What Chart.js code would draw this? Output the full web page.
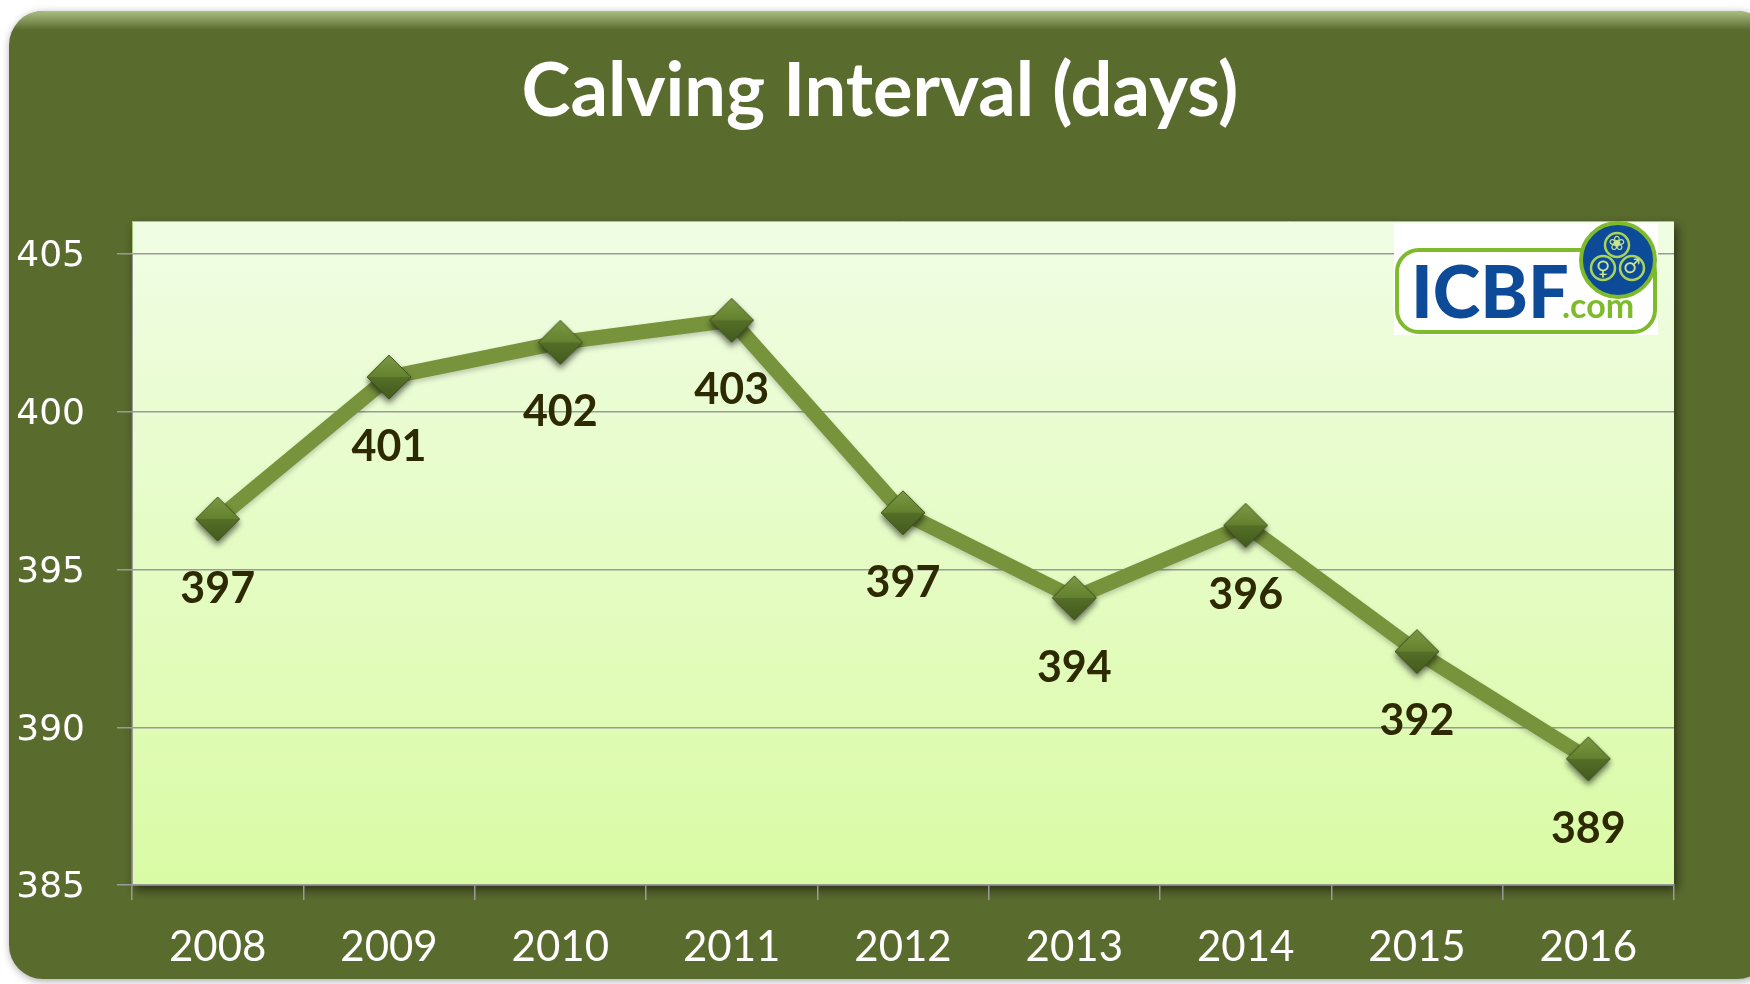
<!DOCTYPE html>
<html>
<head>
<meta charset="utf-8">
<title>Calving Interval (days)</title>
<script src="https://cdn.jsdelivr.net/npm/chart.js@4.4.1/dist/chart.umd.min.js"></script>
<style>
  html, body { margin: 0; padding: 0; background: #fff; }
  #chart { display: block; }
</style>
</head>
<body>
<canvas id="chart" width="1750" height="984"></canvas>
<script>
// ---- DATA ----
const years = ['2008', '2009', '2010', '2011', '2012', '2013', '2014', '2015', '2016'];
const calvingDays = [396.6, 401.1, 402.2, 402.9, 396.8, 394.1, 396.4, 392.4, 389.0];
const yTicks = [385, 390, 395, 400, 405];

// ---- COLOURS ----
const frameGreen = '#5a6b2e';
const lineGreen = '#77933c';
const gridGrey = '#9a9a9a';
const labelInk = '#2d2a02';
const icbfBlue = '#0d4a98';
const icbfGreen = '#7dbb2b';

function roundRect(ctx, x, y, w, h, r) {
  ctx.beginPath();
  ctx.moveTo(x + r, y);
  ctx.lineTo(x + w - r, y);
  ctx.arcTo(x + w, y, x + w, y + r, r);
  ctx.lineTo(x + w, y + h - r);
  ctx.arcTo(x + w, y + h, x + w - r, y + h, r);
  ctx.lineTo(x + r, y + h);
  ctx.arcTo(x, y + h, x, y + h - r, r);
  ctx.lineTo(x, y + r);
  ctx.arcTo(x, y, x + r, y, r);
  ctx.closePath();
}

// bevelled diamond marker, used as the point style
function makeDiamond(r) {
  const pad = 9;
  const size = 2 * (r + pad);
  const c = document.createElement('canvas');
  c.width = size; c.height = size;
  const g = c.getContext('2d');
  const cx = size / 2, cy = size / 2;
  const diamond = () => {
    g.beginPath();
    g.moveTo(cx - r, cy); g.lineTo(cx, cy - r); g.lineTo(cx + r, cy); g.lineTo(cx, cy + r);
    g.closePath();
  };
  g.save();
  g.shadowColor = 'rgba(0,0,0,0.45)';
  g.shadowBlur = 6;
  g.shadowOffsetY = 4;
  diamond();
  g.fillStyle = '#566f27';
  g.fill();
  g.restore();
  // upper facet
  let grad = g.createLinearGradient(0, cy - r, 0, cy);
  grad.addColorStop(0, '#7c9944');
  grad.addColorStop(1, '#64812f');
  g.beginPath(); g.moveTo(cx - r, cy); g.lineTo(cx, cy - r); g.lineTo(cx + r, cy); g.closePath();
  g.fillStyle = grad; g.fill();
  // lower facet
  grad = g.createLinearGradient(0, cy, 0, cy + r);
  grad.addColorStop(0, '#556f28');
  grad.addColorStop(1, '#435a1d');
  g.beginPath(); g.moveTo(cx - r, cy); g.lineTo(cx + r, cy); g.lineTo(cx, cy + r); g.closePath();
  g.fillStyle = grad; g.fill();
  diamond();
  g.lineWidth = 1;
  g.strokeStyle = 'rgba(55,75,20,0.8)';
  g.stroke();
  return c;
}

// ---- PLUGINS ----
const framePanel = {
  id: 'framePanel',
  beforeDraw(chart) {
    const ctx = chart.ctx;
    const a = chart.chartArea;
    ctx.save();
    ctx.shadowColor = 'rgba(0,0,0,0.35)';
    ctx.shadowBlur = 8;
    ctx.shadowOffsetX = 1;
    ctx.shadowOffsetY = 2;
    roundRect(ctx, 9, 11, 1762, 968, 34);
    ctx.fillStyle = frameGreen;
    ctx.fill();
    ctx.restore();

    // light bevel along the top edge
    ctx.save();
    roundRect(ctx, 9, 11, 1762, 968, 34);
    ctx.clip();
    const bevel = ctx.createLinearGradient(0, 11, 0, 30);
    bevel.addColorStop(0, 'rgba(180,200,140,0.9)');
    bevel.addColorStop(1, 'rgba(180,200,140,0)');
    ctx.fillStyle = bevel;
    ctx.fillRect(0, 11, 1750, 20);
    ctx.restore();

    // plot background (extends a little above the top tick)
    const top = a.top - 33;
    ctx.save();
    ctx.shadowColor = 'rgba(0,0,0,0.55)';
    ctx.shadowBlur = 10;
    ctx.shadowOffsetX = 3;
    ctx.shadowOffsetY = 5;
    const bg = ctx.createLinearGradient(0, top, 0, a.bottom);
    bg.addColorStop(0, '#f0fde4');
    bg.addColorStop(1, '#dafba5');
    ctx.fillStyle = bg;
    ctx.fillRect(a.left, top, a.right - a.left, a.bottom - top);
    ctx.restore();
    ctx.save();
    ctx.strokeStyle = '#a8c870';
    ctx.lineWidth = 1;
    ctx.beginPath();
    ctx.moveTo(a.left, a.bottom); ctx.lineTo(a.left + 0.5, top + 0.5); ctx.lineTo(a.right, top + 0.5);
    ctx.stroke();
    ctx.restore();
  }
};

const lineShadow = {
  id: 'lineShadow',
  beforeDatasetsDraw(chart) {
    const ctx = chart.ctx;
    ctx.save();
    ctx.shadowColor = 'rgba(0,0,0,0.2)';
    ctx.shadowBlur = 5;
    ctx.shadowOffsetY = 3;
  },
  afterDatasetsDraw(chart) {
    chart.ctx.restore();
  }
};

const valueLabels = {
  id: 'valueLabels',
  afterDatasetsDraw(chart) {
    const ctx = chart.ctx;
    const meta = chart.getDatasetMeta(0);
    ctx.save();
    ctx.font = 'bold 43px Lato';
    ctx.fillStyle = labelInk;
    ctx.textAlign = 'center';
    ctx.textBaseline = 'middle';
    meta.data.forEach((pt, i) => {
      ctx.fillText(String(Math.round(calvingDays[i])), pt.x, pt.y + 70);
    });
    ctx.restore();
  }
};

const icbfLogo = {
  id: 'icbfLogo',
  afterDraw(chart) {
    const ctx = chart.ctx;
    ctx.save();
    ctx.fillStyle = '#fff';
    ctx.fillRect(1394, 223, 264, 112);
    roundRect(ctx, 1397, 250, 258, 82, 22);
    ctx.lineWidth = 4;
    ctx.strokeStyle = icbfGreen;
    ctx.stroke();

    ctx.textBaseline = 'alphabetic';
    ctx.textAlign = 'left';
    ctx.fillStyle = icbfBlue;
    ctx.font = '900 72px Lato';
    ctx.fillText('ICBF', 1411, 318);
    ctx.fillStyle = icbfGreen;
    ctx.font = 'bold 34px Lato';
    ctx.fillText('.com', 1562, 318);

    // round badge
    ctx.beginPath();
    ctx.arc(1618, 260, 37, 0, Math.PI * 2);
    ctx.fillStyle = icbfBlue;
    ctx.fill();
    ctx.lineWidth = 4;
    ctx.strokeStyle = icbfGreen;
    ctx.stroke();
    ctx.lineWidth = 2.5;
    ctx.strokeStyle = '#a9d45a';
    [[1617, 245, 12], [1603, 268, 12], [1632, 268, 12]].forEach(([x, y, r]) => {
      ctx.beginPath();
      ctx.arc(x, y, r, 0, Math.PI * 2);
      ctx.stroke();
    });
    ctx.fillStyle = '#c7e68f';
    ctx.font = 'bold 20px "DejaVu Sans"';
    ctx.textAlign = 'center';
    ctx.textBaseline = 'middle';
    ctx.fillText('\u2640', 1603, 270);
    ctx.fillText('\u2642', 1632, 268);
    ctx.fillText('\u2740', 1617, 245);
    ctx.restore();
  }
};

// ---- CHART ----
const titleFont = 74;
const titleLine = 1.2;
const titlePadTop = 92 - titleFont * titleLine / 2;

new Chart(document.getElementById('chart'), {
  type: 'line',
  data: {
    labels: years,
    datasets: [{
      label: 'Calving Interval (days)',
      data: calvingDays,
      yAxisID: 'y',
      borderColor: lineGreen,
      borderWidth: 15,
      borderJoinStyle: 'round',
      tension: 0,
      fill: false,
      pointStyle: makeDiamond(22),
      pointRadius: 22,
    }]
  },
  options: {
    responsive: false,
    animation: false,
    layout: { padding: { left: 10, right: 0, top: 0, bottom: 0 } },
    plugins: {
      legend: { display: false },
      tooltip: { enabled: false },
      title: {
        display: true,
        text: 'Calving Interval (days)',
        color: '#ffffff',
        font: { family: 'Lato', weight: 'bold', size: titleFont, lineHeight: titleLine },
        padding: { top: titlePadTop, bottom: 254 - titlePadTop - titleFont * titleLine },
      }
    },
    scales: {
      x: {
        offset: true,
        afterFit: s => { s.height = 99; },
        border: { color: gridGrey, width: 1.5 },
        grid: { offset: true, drawOnChartArea: false, drawTicks: true, tickLength: 15, color: gridGrey, lineWidth: 1.5 },
        ticks: { color: '#ffffff', font: { family: 'Lato', size: 42 }, padding: 22, maxRotation: 0 },
      },
      y: {
        min: yTicks[0],
        max: yTicks[yTicks.length - 1],
        afterFit: s => { s.width = 122; },
        afterBuildTicks: s => { s.ticks = yTicks.map(v => ({ value: v })); },
        border: { color: gridGrey, width: 1 },
        grid: { color: gridGrey, lineWidth: 1.5, tickLength: 15 },
        ticks: { color: '#ffffff', font: { family: 'DejaVu Sans', size: 36 }, padding: 32, labelOffset: 3 },
      },
      // empty right-hand gutter so the title centres over the whole panel
      gutter: {
        position: 'right',
        min: yTicks[0],
        max: yTicks[yTicks.length - 1],
        afterFit: s => { s.width = 76; },
        border: { display: false },
        grid: { display: false },
        ticks: { display: false },
      }
    }
  },
  plugins: [framePanel, lineShadow, valueLabels, icbfLogo]
});
</script>
</body>
</html>
